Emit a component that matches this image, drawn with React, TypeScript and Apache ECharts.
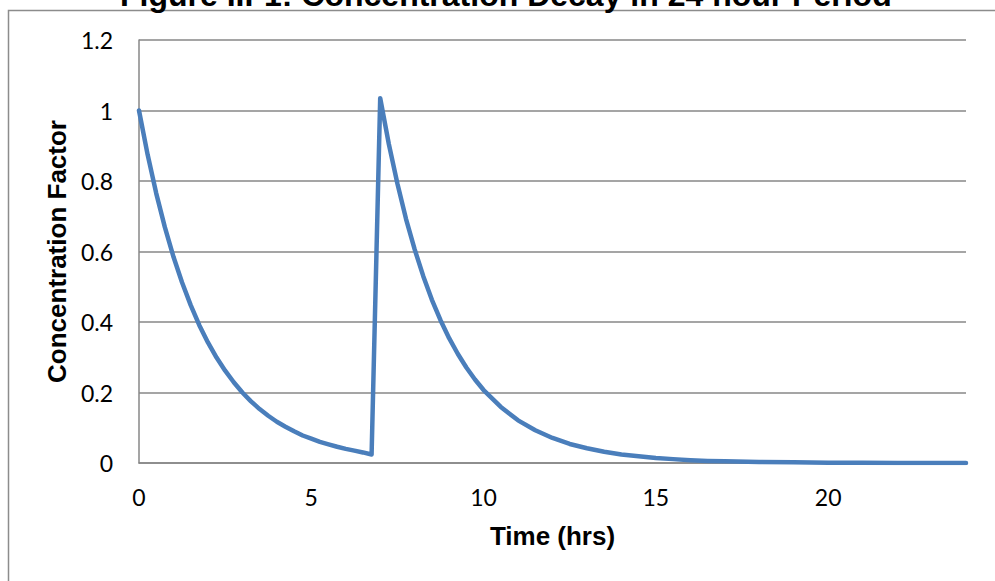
import React, { useEffect, useRef } from "react";
import * as echarts from "echarts";

const TITLE = "Figure III-1: Concentration Decay in 24 hour Period";
const X_NAME = "Time (hrs)";
const Y_NAME = "Concentration Factor";

const timeHrs = [
  0, 0.25, 0.5, 0.75, 1, 1.25, 1.5, 1.75, 2, 2.25, 2.5, 2.75, 3, 3.25, 3.5, 3.75,
  4, 4.25, 4.5, 4.75, 5, 5.25, 5.5, 5.75, 6, 6.25, 6.5, 6.75,
  7, 7.25, 7.5, 7.75, 8, 8.25, 8.5, 8.75, 9, 9.25, 9.5, 9.75, 10,
  10.5, 11, 11.5, 12, 12.5, 13, 13.5, 14, 14.5, 15, 15.5, 16, 16.5, 17,
  18, 19, 20, 21, 22, 23, 24,
];

const concentration = [
  1.0, 0.875, 0.765, 0.669, 0.585, 0.512, 0.448, 0.391, 0.342, 0.299, 0.262, 0.229, 0.2, 0.175, 0.153, 0.134,
  0.117, 0.103, 0.09, 0.078, 0.069, 0.06, 0.053, 0.046, 0.04, 0.035, 0.03, 0.024,
  1.035, 0.905, 0.792, 0.692, 0.606, 0.53, 0.463, 0.405, 0.354, 0.31, 0.271, 0.237, 0.207,
  0.159, 0.121, 0.093, 0.071, 0.054, 0.042, 0.032, 0.024, 0.019, 0.014, 0.011, 0.008, 0.006, 0.005,
  0.003, 0.002, 0.001, 0.0006, 0.0003, 0.0002, 0.0001,
];

const X_MIN = 0;
const X_MAX = 24;
const X_STEP = 5;
const Y_MIN = 0;
const Y_MAX = 1.2;
const Y_STEP = 0.2;

export default function App() {
  const ref = useRef<HTMLDivElement>(null);

  useEffect(() => {
    document.body.style.margin = "0";
    document.body.style.background = "#ffffff";
    if (!ref.current) return;
    const chart = echarts.init(ref.current, undefined, { renderer: "svg" });
    const data = timeHrs.map((t, i) => [t, concentration[i]]);
    const gray = "#878787";
    chart.setOption({
      animation: false,
      backgroundColor: "#ffffff",
      grid: { left: 139, right: 29, top: 40, bottom: 118, containLabel: false },
      graphic: [
        {
          type: "rect",
          shape: { x: 8.5, y: 10.5, width: 1100, height: 700 },
          style: { fill: "none", stroke: "#8c8c8c", lineWidth: 1.5 },
          silent: true,
          z: 0,
        },
        {
          type: "text",
          x: 120,
          y: -5,
          style: {
            text: TITLE,
            font: "bold 32px 'Liberation Sans', Arial, sans-serif",
            fill: "#000000",
            align: "left",
            verticalAlign: "middle",
          },
          z: 10,
        },
      ],
      xAxis: {
        type: "value",
        min: X_MIN,
        max: X_MAX,
        interval: X_STEP,
        name: X_NAME,
        nameLocation: "middle",
        nameGap: 60,
        nameTextStyle: {
          fontFamily: "'Liberation Sans', Arial, sans-serif",
          fontWeight: "bold",
          fontSize: 26,
          color: "#000000",
        },
        axisLine: { show: true, lineStyle: { color: gray, width: 1.5 } },
        axisTick: { show: false },
        splitLine: { show: false },
        axisLabel: {
          showMaxLabel: false,
          margin: 22,
          fontFamily: "Lato, 'Open Sans', sans-serif",
          fontSize: 23,
          color: "#000000",
        },
      },
      yAxis: {
        type: "value",
        min: Y_MIN,
        max: Y_MAX,
        interval: Y_STEP,
        name: Y_NAME,
        nameLocation: "middle",
        nameGap: 68,
        nameTextStyle: {
          fontFamily: "'Liberation Sans', Arial, sans-serif",
          fontWeight: "bold",
          fontSize: 26,
          color: "#000000",
        },
        axisLine: { show: true, lineStyle: { color: gray, width: 1.5 } },
        axisTick: { show: false },
        splitLine: { show: true, lineStyle: { color: gray, width: 1.5 } },
        axisLabel: {
          margin: 26,
          fontFamily: "Lato, 'Open Sans', sans-serif",
          fontSize: 23,
          color: "#000000",
          formatter: (v: number) => String(Math.round(v * 10) / 10),
        },
      },
      series: [
        {
          type: "line",
          data,
          showSymbol: false,
          smooth: false,
          lineStyle: { color: "#4a7ebb", width: 4.5, cap: "round", join: "round" },
          itemStyle: { color: "#4a7ebb" },
          z: 5,
        },
      ],
    });
    return () => chart.dispose();
  }, []);

  return <div ref={ref} style={{ width: 995, height: 581, overflow: "hidden" }} />;
}
